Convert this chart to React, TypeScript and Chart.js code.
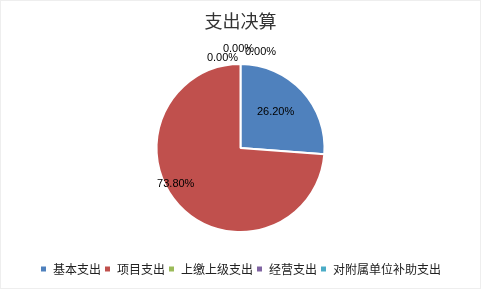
import React, { useEffect, useRef } from "react";
import { Chart, registerables } from "chart.js";

Chart.register(...registerables);

const title = "支出决算";
const categories = ["基本支出", "项目支出", "上缴上级支出", "经营支出", "对附属单位补助支出"];
const values = [26.2, 73.8, 0, 0, 0];
const colors = ["#4F81BD", "#C0504D", "#9BBB59", "#8064A2", "#4BACC6"];

const labelPlugin = {
  id: "pctLabels",
  afterDatasetsDraw(chart: any) {
    const meta = chart.getDatasetMeta(0);
    const ctx = chart.ctx;
    const total = values.reduce((a, b) => a + b, 0);
    ctx.save();
    ctx.font = "11px 'Liberation Sans', sans-serif";
    ctx.fillStyle = "#000";
    ctx.textAlign = "center";
    ctx.textBaseline = "middle";
    const nonZero: Record<number, { frac: number; shift: number }> = {
      0: { frac: 0.6, shift: -3 },
      1: { frac: 0.88, shift: 14 },
    };
    const zeroOffsets = [
      [-18, -6],
      [-2, -15],
      [20, -12],
    ];
    let zi = 0;
    meta.data.forEach((arc: any, i: number) => {
      const { x, y, startAngle, endAngle, outerRadius } = arc.getProps(
        ["x", "y", "startAngle", "endAngle", "outerRadius"],
        true
      );
      const text = ((values[i] / total) * 100).toFixed(2) + "%";
      if (values[i] > 0) {
        const cfg = nonZero[i] || { frac: 0.6, shift: 0 };
        const mid = (startAngle + endAngle) / 2 + (cfg.shift * Math.PI) / 180;
        const r = outerRadius * cfg.frac;
        ctx.fillText(text, x + Math.cos(mid) * r, y + Math.sin(mid) * r);
      } else {
        const off = zeroOffsets[zi % zeroOffsets.length];
        zi++;
        const px = x + Math.cos(startAngle) * outerRadius;
        const py = y + Math.sin(startAngle) * outerRadius;
        ctx.fillText(text, px + off[0], py + off[1]);
      }
    });
    ctx.restore();
  },
};

const borderPlugin = {
  id: "frameBorder",
  afterDraw(chart: any) {
    const ctx = chart.ctx;
    ctx.save();
    ctx.strokeStyle = "#eeeeee";
    ctx.lineWidth = 1;
    ctx.strokeRect(0.5, 0.5, chart.width - 1, chart.height - 1);
    ctx.restore();
  },
};

export default function App() {
  const ref = useRef<HTMLCanvasElement | null>(null);
  useEffect(() => {
    if (!ref.current) return;
    const chart = new Chart(ref.current, {
      type: "pie",
      data: {
        labels: categories,
        datasets: [
          {
            data: values,
            backgroundColor: colors,
            borderColor: "#ffffff",
            borderWidth: 2,
          },
        ],
      },
      options: {
        animation: false,
        responsive: false,
        radius: 84,
        layout: { padding: { top: 0, bottom: 4, left: 0, right: 0 } },
        plugins: {
          title: {
            display: true,
            text: title,
            color: "#333333",
            font: { family: "'Noto Sans CJK SC', sans-serif", size: 18, weight: "normal" },
            padding: { top: 10, bottom: 4.4 },
          },
          legend: {
            position: "bottom",
            labels: {
              boxWidth: 7,
              boxHeight: 7,
              padding: 3,
              color: "#222222",
              font: { family: "'Noto Sans CJK SC', sans-serif", size: 12 },
            },
          },
          tooltip: { enabled: false },
        },
      } as any,
      plugins: [labelPlugin, borderPlugin],
    });
    return () => chart.destroy();
  }, []);
  return (
    <div style={{ position: "absolute", left: 0, top: 0, width: 481, height: 289, background: "#fff" }}>
      <canvas ref={ref} width={481} height={289} style={{ width: 481, height: 289 }} />
    </div>
  );
}
